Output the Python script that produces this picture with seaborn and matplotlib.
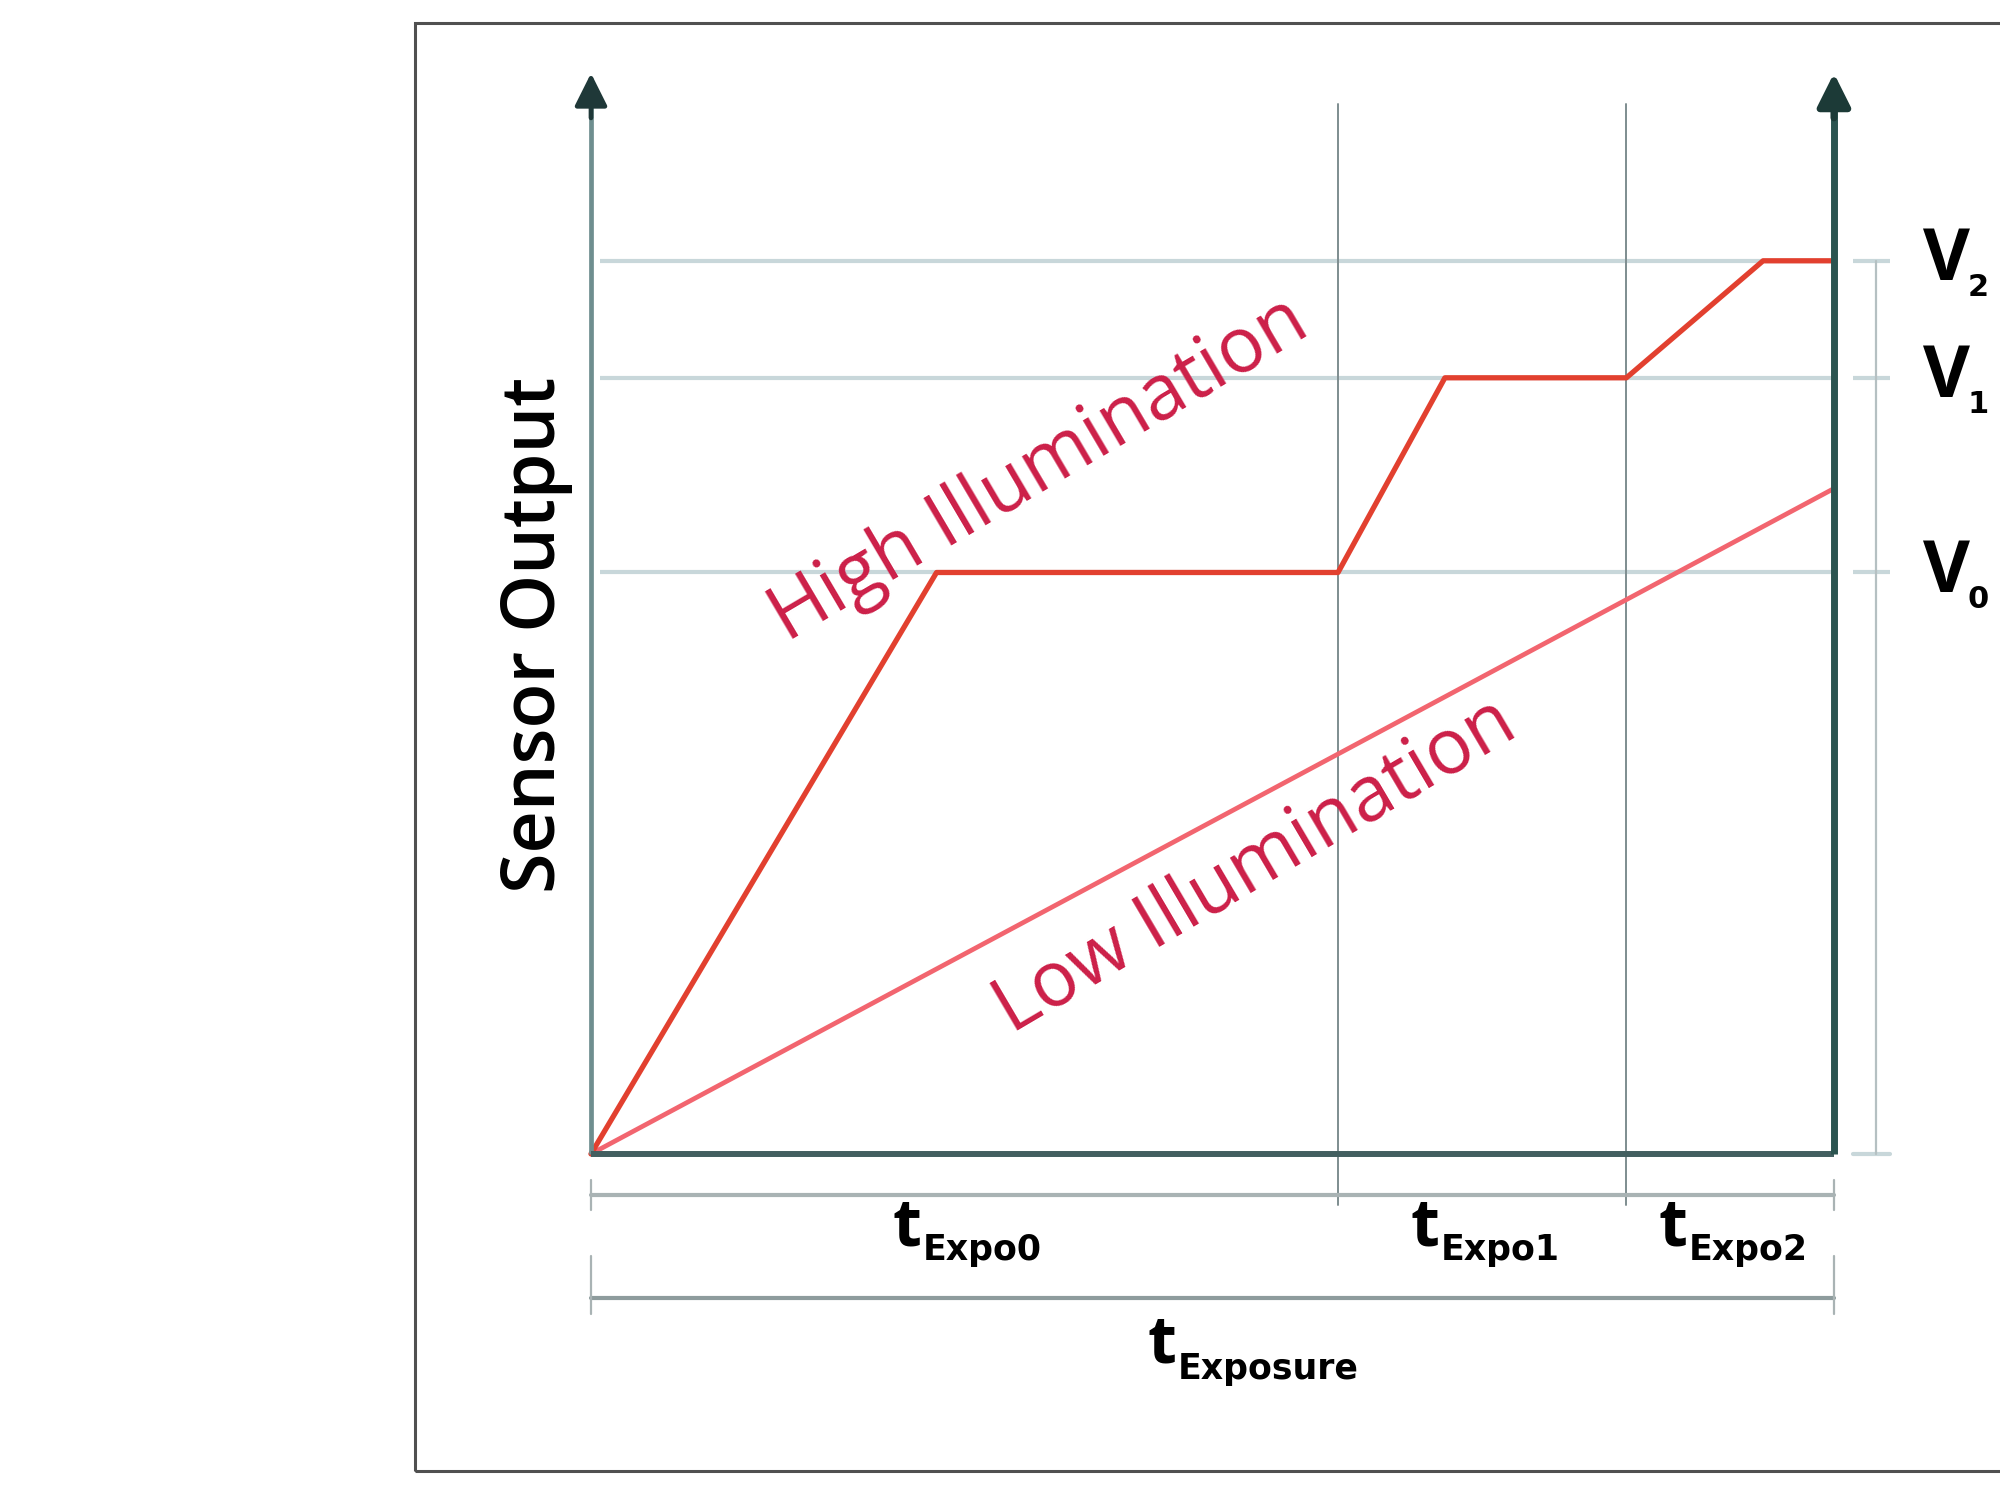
import matplotlib
matplotlib.use("Agg")
import matplotlib.pyplot as plt
import seaborn as sns
import numpy as np
import pandas as pd
from matplotlib.patches import Rectangle

# ---------------- data ----------------
V_levels = [65.1, 86.9, 100.0]          # V0, V1, V2
V_labels = ["0", "1", "2"]
t_bounds = [0.0, 60.1, 83.3, 100.0]     # segment boundaries (tExpo0, tExpo1, tExpo2)
t_labels = ["Expo0", "Expo1", "Expo2"]
total_label = "Exposure"

high_t = [0.0, 27.8, 60.1, 68.7, 83.3, 94.3, 100.0]
high_v = [0.0, 65.1, 65.1, 86.9, 86.9, 100.0, 100.0]
low_t = [0.0, 100.0]
low_v = [0.0, 74.5]

# ---------------- style ----------------
sns.set_theme(style="white")
plt.rcParams['font.family'] = ['Open Sans', 'DejaVu Sans']

DPI = 100
fig = plt.figure(figsize=(20, 15), dpi=DPI)
ax = fig.add_axes([0, 0, 1, 1])
ax.set_xlim(-47.55, 113.36)
ax.set_ylim(-38.75, 129.2)
ax.axis('off')

red_high = '#e2402f'
red_low = '#f2656f'
text_red = '#cc1f48'
grid_c = '#c8d7da'
vline_c = '#7e8d8f'
brk_c = '#a9b3b4'

# frame
ax.add_patch(Rectangle((-14.16, -35.5), 140, 162.15, fill=False,
                       edgecolor='#505050', lw=2.2, zorder=1))

# V horizontal lines
for v in V_levels:
    ax.plot([0.7, 100], [v, v], color=grid_c, lw=3, zorder=2, solid_capstyle='butt')
    ax.plot([101.5, 104.5], [v, v], color=grid_c, lw=3, zorder=2, solid_capstyle='butt')
ax.plot([101.5, 104.5], [0, 0], color=grid_c, lw=3, zorder=2)
ax.plot([103.4, 103.4], [0, V_levels[-1]], color='#b5c0c2', lw=1.6, zorder=2)

# vertical separators
for t in t_bounds[1:-1]:
    ax.plot([t, t], [-5.7, 117.5], color=vline_c, lw=1.4, zorder=2)

# bracket lines
ax.plot([0, 100], [-4.6, -4.6], color=brk_c, lw=3, zorder=2)
for t in [t_bounds[0], t_bounds[-1]]:
    ax.plot([t, t], [-2.9, -6.3], color=brk_c, lw=1.6, zorder=2)
ax.plot([0, 100], [-16.1, -16.1], color='#8e9c9d', lw=3, zorder=2)
for t in [t_bounds[0], t_bounds[-1]]:
    ax.plot([t, t], [-11.4, -17.9], color=brk_c, lw=1.6, zorder=2)

# curves
sns.lineplot(x=low_t, y=low_v, ax=ax, color=red_low, lw=3.4, zorder=4, sort=False)
sns.lineplot(x=high_t, y=high_v, ax=ax, color=red_high, lw=3.8, zorder=5, sort=False)

# axes
ax.plot([0, 0], [0, 118], color='#6e8e8f', lw=3.4, zorder=6, solid_capstyle='butt')
ax.annotate('', xy=(0, 121.0), xytext=(0, 116),
            arrowprops=dict(arrowstyle='-|>', mutation_scale=50, lw=3.4,
                            color='#1f3838', shrinkA=0, shrinkB=0), zorder=7)
ax.plot([0, 100], [0, 0], color='#435f60', lw=4.3, zorder=6, solid_capstyle='butt')
ax.plot([100, 100], [0, 118], color='#2b5450', lw=5, zorder=6, solid_capstyle='butt')
ax.annotate('', xy=(100, 121.0), xytext=(100, 116),
            arrowprops=dict(arrowstyle='-|>', mutation_scale=50, lw=5,
                            color='#1c3a37', shrinkA=0, shrinkB=0), zorder=7)

# texts
ax.text(-4.4, 58.1, "Sensor Output", rotation=90, ha='center', va='center',
        fontsize=53, color='black', fontweight='semibold')
ax.text(36.1, 76.6, "High Illumination", rotation=30.5, ha='center', va='center',
        rotation_mode='anchor', fontsize=55, color=text_red)
ax.text(53.5, 32.1, "Low Illumination", rotation=30.5, ha='center', va='center',
        rotation_mode='anchor', fontsize=55, color=text_red)

renderer = fig.canvas.get_renderer()


def sub_label(x, y, main, sub, main_size, sub_size, drop_px, gap_pt):
    t = ax.text(x, y, main, ha='left', va='baseline', fontsize=main_size,
                fontweight='bold', color='black')
    bb = t.get_window_extent(renderer=renderer)
    w_pts = bb.width * 72.0 / DPI
    ax.annotate(sub, xy=(x, y), xycoords='data',
                xytext=(w_pts + gap_pt, -drop_px * 72.0 / DPI), textcoords='offset points',
                ha='left', va='baseline', fontsize=sub_size, fontweight='bold',
                family=['DejaVu Sans'], color='black')


for v, lab in zip(V_levels, V_labels):
    sub_label(107.2, v - 2.2, "V", lab, 52, 22, 16, -2.0)

for i, lab in enumerate(t_labels):
    mid = (t_bounds[i] + t_bounds[i + 1]) / 2
    sub_label(mid - 5.8, -10.2, "t", lab, 48, 25, 15, 1.0)
sub_label((t_bounds[0] + t_bounds[-1]) / 2 - 5.2, -23.3, "t", total_label, 48, 25, 17, 1.0)

fig.savefig("out.png", dpi=DPI)
